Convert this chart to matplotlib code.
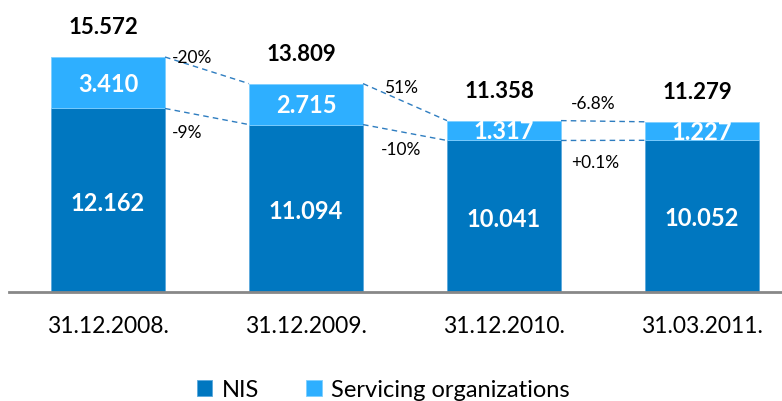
import matplotlib
matplotlib.use("Agg")
import matplotlib.pyplot as plt

# data
dates = ["31.12.2008.", "31.12.2009.", "31.12.2010.", "31.03.2011."]
nis = [12.162, 11.094, 10.041, 10.052]
servicing = [3.410, 2.715, 1.317, 1.227]
totals = [15.572, 13.809, 11.358, 11.279]
serv_change = ["-20%", "51%", "-6.8%"]
nis_change = ["-9%", "-10%", "+0.1%"]

DARK = "#0077C0"
LIGHT = "#2EAFFF"
LINE = "#2E7DC0"
FONT = "Lato"

plt.rcParams["font.family"] = [FONT, "DejaVu Sans"]

fig = plt.figure(figsize=(7.82, 4.01), dpi=100)
ax = fig.add_axes([9 / 782, 109 / 401, 792 / 782, 292 / 401])

x = list(range(len(dates)))
w = 0.576
ax.bar(x, nis, width=w, color=DARK, edgecolor="#5aa9dd", linewidth=0.6, label="NIS")
ax.bar(x, servicing, width=w, bottom=nis, color=LIGHT, edgecolor="#7fcfff",
       linewidth=0.6, label="Servicing organizations")

ax.set_xlim(-0.5, 3.5)
ax.set_ylim(0, 19.35)

for i in x:
    ax.annotate(f"{nis[i]:.3f}", (i, nis[i] / 2), xytext=(0, -2),
                textcoords="offset points", ha="center", va="center",
                color="white", fontsize=17, fontweight="bold")
    ax.annotate(f"{servicing[i]:.3f}", (i, nis[i] + servicing[i] / 2),
                xytext=(0, -1), textcoords="offset points", ha="center",
                va="center", color="white", fontsize=17, fontweight="bold")
    ax.annotate(f"{totals[i]:.3f}", (i, nis[i] + servicing[i]),
                xytext=(-3, 21), textcoords="offset points", ha="center",
                va="center", fontsize=16, fontweight="bold", color="black")

# dashed connectors between bars
for i in range(len(x) - 1):
    top0 = nis[i] + servicing[i]
    top1 = nis[i + 1] + servicing[i + 1]
    ax.plot([i + w / 2, i + 1 - w / 2], [top0, top1], ls=(0, (4, 3)),
            color=LINE, lw=1)
    ax.plot([i + w / 2, i + 1 - w / 2], [nis[i], nis[i + 1]], ls=(0, (4, 3)),
            color=LINE, lw=1)

serv_off = [(5, -1), (15, -3), (7, 12)]
nis_off = [(5, -18), (13, -18), (7, -16)]
for i in range(len(x) - 1):
    ax.annotate(serv_change[i], (i + w / 2, nis[i] + servicing[i]),
                xytext=serv_off[i], textcoords="offset points", ha="left",
                va="center", fontsize=12.5)
    ax.annotate(nis_change[i], (i + w / 2, nis[i]), xytext=nis_off[i],
                textcoords="offset points", ha="left", va="center",
                fontsize=12.5)

ax.set_xticks(x)
ax.set_xticklabels(dates, fontsize=16.5)
ax.tick_params(axis="x", length=0, pad=17)
ax.set_yticks([])
for s in ["top", "right", "left"]:
    ax.spines[s].set_visible(False)
ax.spines["bottom"].set_color("#888888")
ax.spines["bottom"].set_linewidth(2)

fig.legend(loc="lower center", bbox_to_anchor=(0.49, -0.052), ncol=2,
           frameon=False, fontsize=17, handlelength=0.65, handleheight=0.65,
           handletextpad=0.4, columnspacing=2.0)

fig.savefig("out.png", dpi=100)
